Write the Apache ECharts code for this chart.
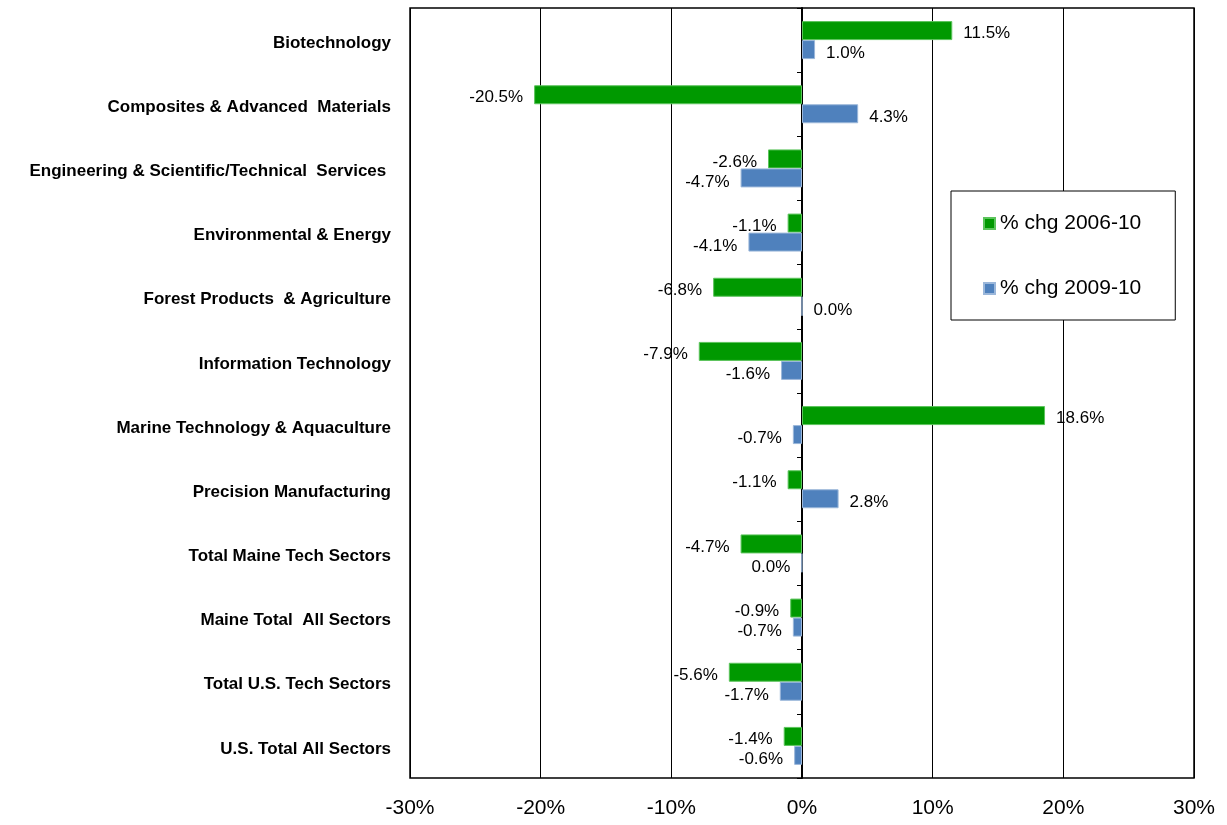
<!DOCTYPE html>
<html>
<head>
<meta charset="utf-8">
<script src="https://cdn.jsdelivr.net/npm/echarts@6/dist/echarts.min.js"></script>
<style>
  html, body { margin: 0; padding: 0; background: #fff; }
  #chart { width: 1227px; height: 825px; }
</style>
</head>
<body>
<div id="chart"></div>
<script>
// categories, top to bottom
const sectors = [
  'Biotechnology',
  'Composites & Advanced  Materials',
  'Engineering & Scientific/Technical  Services ',
  'Environmental & Energy',
  'Forest Products  & Agriculture',
  'Information Technology',
  'Marine Technology & Aquaculture',
  'Precision Manufacturing',
  'Total Maine Tech Sectors',
  'Maine Total  All Sectors',
  'Total U.S. Tech Sectors',
  'U.S. Total All Sectors'
]
// % chg 2006-10
const chg0610 = [11.5, -20.5, -2.6, -1.1, -6.8, -7.9, 18.6, -1.1, -4.7, -0.9, -5.6, -1.4]
// % chg 2009-10
const chg0910 = [1.0, 4.3, -4.7, -4.1, 0.0, -1.6, -0.7, 2.8, -0.02, -0.7, -1.7, -0.6]
const xTicks = [-30, 30, 10] // min, max, step

const fmt = v => (Math.abs(v) < 0.05 ? 0 : v).toFixed(1) + '%'

// put label on the outer side of each bar
function toData (arr, dy) {
  return arr.map(v => ({
    value: v,
    label: { position: v < 0 ? 'left' : 'right', offset: [0, dy] }
  }))
}

const chart = echarts.init(document.getElementById('chart'))
chart.setOption({
  animation: false,
  textStyle: { fontFamily: 'Liberation Sans, Arial, sans-serif' },
  grid: {
    left: 410, right: 33, top: 8, bottom: 47,
    show: true, borderColor: '#000', borderWidth: 1.5
  },
  legend: {
    orient: 'vertical',
    left: 951, top: 191,
    padding: [22, 34, 21, 32],
    itemGap: 44,
    itemWidth: 11, itemHeight: 11,
    icon: 'rect',
    backgroundColor: '#fff',
    borderColor: '#000', borderWidth: 1,
    textStyle: { fontSize: 21, color: '#000', lineHeight: 20 },
    data: ['% chg 2006-10', '% chg 2009-10']
  },
  xAxis: {
    type: 'value',
    min: xTicks[0], max: xTicks[1], interval: xTicks[2],
    axisLine: { show: false },
    axisTick: { show: false },
    axisLabel: { fontSize: 21, color: '#000', margin: 20, formatter: v => v + '%' },
    splitLine: { lineStyle: { color: '#000', width: 1 } }
  },
  yAxis: [
    {
      type: 'category', data: sectors, inverse: true,
      axisLine: { show: false, onZero: false },
      axisTick: { show: false },
      axisLabel: {
        fontSize: 17, fontWeight: 'bold', color: '#000', margin: 19,
        verticalAlign: 'top', lineHeight: 6
      }
    },
    {
      type: 'category', data: sectors, inverse: true, position: 'left',
      axisLine: { show: true, onZero: true, lineStyle: { color: '#000', width: 2 } },
      axisTick: { show: true, length: 5, lineStyle: { color: '#000' } },
      axisLabel: { show: false }
    }
  ],
  series: [
    {
      name: '% chg 2006-10', type: 'bar', yAxisIndex: 0,
      data: toData(chg0610, 3),
      barWidth: 19, barGap: '0%',
      itemStyle: { color: '#009900', borderColor: '#5cc45c', borderWidth: 1 },
      label: { show: true, fontSize: 17, color: '#000', distance: 11, formatter: p => fmt(p.value) }
    },
    {
      name: '% chg 2009-10', type: 'bar', yAxisIndex: 0,
      data: toData(chg0910, 4),
      barWidth: 19, barGap: '0%',
      itemStyle: { color: '#4f81bd', borderColor: '#9bb7da', borderWidth: 1 },
      label: { show: true, fontSize: 17, color: '#000', distance: 11, formatter: p => fmt(p.value) }
    }
  ]
})
</script>
</body>
</html>
